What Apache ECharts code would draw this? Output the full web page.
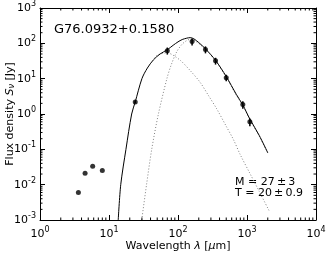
<!DOCTYPE html>
<html><head><meta charset="utf-8">
<script src="https://cdn.jsdelivr.net/npm/echarts@6/dist/echarts.min.js"></script>
<style>html,body{margin:0;padding:0;background:#fff}#c{width:333px;height:255px}</style>
</head><body><div id="c"></div>
<script>
// Observed photometry
const obsWave = [3.6, 4.5, 5.8, 8.0, 24, 70, 160, 250, 350, 500, 870, 1100];
const obsFlux = [0.006, 0.021, 0.033, 0.025, 2.2, 62, 112, 67, 32, 10.7, 1.85, 0.6];
const obsErr  = [0, 0, 0, 0, 0.2, 14, 25, 15, 7, 2.3, 0.45, 0.15];
// Total model (solid)
const totWave = [13.6, 14.8, 17.6, 21.3, 24, 30, 36, 44, 55, 70, 85, 100, 115, 134, 150, 170, 200, 250, 350, 500, 700, 870, 1100, 1500, 2000];
const totFlux = [0.001, 0.01, 0.1, 1, 2.2, 10, 20, 34, 50, 66, 88, 110, 128, 140, 145, 134, 105, 70, 33, 11.5, 3.6, 1.8, 0.72, 0.25, 0.08];
// Cold component (dotted)
const coldWave = [29.8, 35, 41.6, 52, 69, 80, 96, 115, 134, 150, 170, 200, 250, 350, 500, 700, 870, 1100, 1500, 2000];
const coldFlux = [0.001, 0.01, 0.1, 1, 10, 25, 58, 95, 120, 130, 122, 98, 68, 32, 11, 3.4, 1.75, 0.7, 0.24, 0.078];
// Warm component (dotted)
const warmWave = [45, 50, 60, 70, 85, 110, 150, 208, 280, 364, 500, 635, 800, 1100, 1500, 2100];
const warmFlux = [38, 46, 52, 54, 46, 32, 17, 8, 3.2, 1.4, 0.45, 0.19, 0.07, 0.021, 0.0065, 0.0018];
// Axes
const xMin = 1, xMax = 10000, xDecades = [0, 1, 2, 3];
const yMin = 0.001, yMax = 1000, yDecades = [-3, -2, -1, 0, 1, 2];
const minorMult = [2, 3, 4, 5, 6, 7, 8, 9];

const FONT = 'DejaVu Sans';
const chart = echarts.init(document.getElementById('c'), null, {renderer: 'canvas'});

const expFmt = v => '10{s|' + Math.round(Math.log10(v)) + '}';
const tickRich = {s: {fontSize: 8, fontFamily: FONT, color: '#000', verticalAlign: 'top', padding: [0, 0, 8, 0]}};

const minorData = [];
xDecades.forEach(d => minorMult.forEach(m => minorData.push([m * Math.pow(10, d), yMin, 0])));
yDecades.forEach(d => minorMult.forEach(m => minorData.push([xMin, m * Math.pow(10, d), 1])));

const errData = [];
obsWave.forEach((w, i) => { if (obsErr[i] > 0) errData.push([w, obsFlux[i] - obsErr[i], obsFlux[i] + obsErr[i]]); });

const baseX = {type: 'log', logBase: 10, min: xMin, max: xMax, splitNumber: 4, splitLine: {show: false},
  axisLine: {show: true, onZero: false, lineStyle: {color: '#000', width: 1}},
  axisTick: {show: true, inside: true, length: 5, lineStyle: {color: '#000', width: 1}}};
const baseY = {type: 'log', logBase: 10, min: yMin, max: yMax, splitNumber: 6, splitLine: {show: false},
  axisLine: {show: true, onZero: false, lineStyle: {color: '#000', width: 1}},
  axisTick: {show: true, inside: true, length: 5, lineStyle: {color: '#000', width: 1}}};

chart.setOption({
  animation: false,
  backgroundColor: '#fff',
  grid: {left: 40, right: 17, top: 8, bottom: 35, containLabel: false, outerBoundsMode: 'none'},
  title: {text: 'G76.0932+0.1580', left: 49, top: 18,
    textStyle: {fontFamily: FONT, fontSize: 13, fontWeight: 'normal', color: '#000'}},
  graphic: [
    {type: 'text', left: 235, top: 177, style: {text: 'M = 27\u2009\u00b1\u20093', font: '11px "DejaVu Sans"', fill: '#000'}},
    {type: 'text', left: 235, top: 188, style: {text: 'T = 20\u2009\u00b1\u20090.9', font: '11px "DejaVu Sans"', fill: '#000'}}
  ],
  xAxis: [
    Object.assign({}, baseX, {position: 'bottom',
      name: 'Wavelength {i|\u03bb} [{i|\u03bc}m]', nameLocation: 'middle', nameGap: 21, nameMoveOverlap: false,
      nameTextStyle: {fontFamily: FONT, fontSize: 11, color: '#000',
        rich: {i: {fontStyle: 'italic', fontFamily: FONT, fontSize: 11, color: '#000'}}},
      axisLabel: {formatter: expFmt, fontFamily: FONT, fontSize: 11, color: '#000', margin: 6, rich: tickRich}}),
    Object.assign({}, baseX, {position: 'top', axisLabel: {show: false}})
  ],
  yAxis: [
    Object.assign({}, baseY, {position: 'left',
      name: 'Flux density {i|S}{sub|\u03bd} [Jy]', nameLocation: 'middle', nameGap: 24, nameRotate: 90, nameMoveOverlap: false,
      nameTextStyle: {fontFamily: FONT, fontSize: 11, color: '#000',
        rich: {i: {fontStyle: 'italic', fontFamily: FONT, fontSize: 11, color: '#000'},
               sub: {fontStyle: 'italic', fontFamily: FONT, fontSize: 8, color: '#000', verticalAlign: 'bottom'}}},
      axisLabel: {formatter: expFmt, fontFamily: FONT, fontSize: 11, color: '#000', margin: 4, rich: tickRich}}),
    Object.assign({}, baseY, {position: 'right', axisLabel: {show: false}})
  ],
  series: [
    {type: 'custom', xAxisIndex: 0, yAxisIndex: 0, silent: true, clip: false, z: 5,
      data: minorData,
      renderItem: (params, api) => {
        const v0 = api.value(0), v1 = api.value(1), kind = api.value(2);
        const L = 2.5;
        if (kind === 0) {
          const b = api.coord([v0, yMin]), t = api.coord([v0, yMax]);
          return {type: 'group', children: [
            {type: 'line', shape: {x1: b[0], y1: b[1], x2: b[0], y2: b[1] - L}, style: {stroke: '#000', lineWidth: 1}},
            {type: 'line', shape: {x1: t[0], y1: t[1], x2: t[0], y2: t[1] + L}, style: {stroke: '#000', lineWidth: 1}}
          ]};
        } else {
          const l = api.coord([xMin, v1]), r = api.coord([xMax, v1]);
          return {type: 'group', children: [
            {type: 'line', shape: {x1: l[0], y1: l[1], x2: l[0] + L, y2: l[1]}, style: {stroke: '#000', lineWidth: 1}},
            {type: 'line', shape: {x1: r[0], y1: r[1], x2: r[0] - L, y2: r[1]}, style: {stroke: '#000', lineWidth: 1}}
          ]};
        }
      }},
    {type: 'line', name: 'warm', data: warmWave.map((w, i) => [w, warmFlux[i]]), showSymbol: false, smooth: 0.3,
      lineStyle: {color: '#808080', width: 1, type: [1, 2]}, z: 2},
    {type: 'line', name: 'cold', data: coldWave.map((w, i) => [w, coldFlux[i]]), showSymbol: false, smooth: 0.3,
      lineStyle: {color: '#808080', width: 1, type: [1, 2]}, z: 2},
    {type: 'line', name: 'total', data: totWave.map((w, i) => [w, totFlux[i]]), showSymbol: false, smooth: 0.3,
      lineStyle: {color: '#000', width: 1}, z: 3},
    {type: 'custom', name: 'err', data: errData, encode: {x: 0, y: [1, 2]}, z: 4,
      renderItem: (params, api) => {
        const a = api.coord([api.value(0), api.value(1)]), b = api.coord([api.value(0), api.value(2)]);
        return {type: 'line', shape: {x1: a[0], y1: a[1], x2: b[0], y2: b[1]}, style: {stroke: '#000', lineWidth: 1.5}};
      }},
    {type: 'scatter', name: 'obs', data: obsWave.map((w, i) => [w, obsFlux[i]]), symbol: 'circle', symbolSize: 5,
      itemStyle: {color: '#000'}, z: 6}
  ]
});
</script></body></html>
